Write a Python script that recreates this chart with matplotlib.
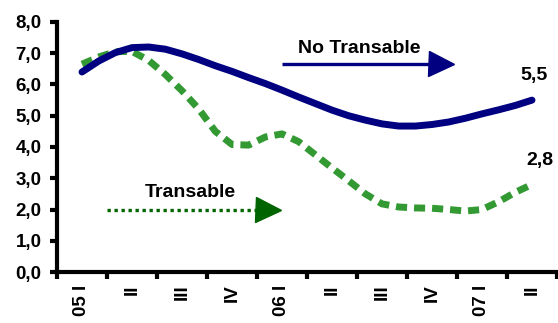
import numpy as np
import matplotlib
matplotlib.use("Agg")
import matplotlib.pyplot as plt

plt.rcParams["font.family"] = ["Liberation Sans", "DejaVu Sans"]
plt.rcParams["font.weight"] = "bold"

# quarter labels (one category per quarter) and monthly observations
quarters = ["05 I", "II", "III", "IV", "06 I", "II", "III", "IV", "07 I", "II"]
no_transable = [6.40, 6.75, 7.02, 7.18, 7.20, 7.13, 6.98, 6.80, 6.60, 6.42,
                6.22, 6.03, 5.82, 5.60, 5.39, 5.18, 5.00, 4.86, 4.74, 4.67,
                4.67, 4.72, 4.80, 4.92, 5.06, 5.19, 5.33, 5.50]
transable = [6.65, 6.88, 7.05, 7.06, 6.77, 6.32, 5.80, 5.22, 4.50, 4.08,
             4.06, 4.32, 4.42, 4.17, 3.75, 3.33, 2.92, 2.50, 2.18, 2.08,
             2.05, 2.04, 2.00, 1.95, 2.00, 2.25, 2.55, 2.80]

NAVY = "#000080"
GREEN = "#339933"
DKGREEN = "#006400"

months = np.arange(len(no_transable)) / 3.0

fig = plt.figure(figsize=(5.58, 3.23), dpi=100, facecolor="white")
ax = fig.add_axes([57 / 558, 51 / 323, 500 / 558, 250 / 323])

ax.plot(months, transable, color=GREEN, lw=5, dashes=(1.6, 1.0),
        solid_capstyle="butt", dash_capstyle="butt", zorder=3)
ax.plot(months, no_transable, color=NAVY, lw=5, solid_capstyle="round", zorder=4)

ax.text(months[-1] + 0.04, 6.3, f"{no_transable[-1]:.1f}".replace(".", ","),
        ha="center", va="center", fontsize=14, fontweight="bold")
ax.text(months[-1] + 0.15, 3.58, f"{transable[-1]:.1f}".replace(".", ","),
        ha="center", va="center", fontsize=14, fontweight="bold")

# legend-like arrows
ax.plot([4.0, 7.2], [6.66, 6.66], color=NAVY, lw=2.4, solid_capstyle="butt")
ax.plot([7.17], [6.66], marker=">", ms=18, color=NAVY, mec=NAVY)
ax.text(5.55, 7.14, "No Transable", ha="center", va="center", fontsize=14, fontweight="bold")

ax.plot([0.5, 3.5], [2.0, 2.0], color=DKGREEN, lw=2.4, dashes=(1, 1.1))
ax.plot([3.71], [2.0], marker=">", ms=18, color=DKGREEN, mec=DKGREEN)
ax.text(2.16, 2.54, "Transable", ha="center", va="center", fontsize=14, fontweight="bold")

ax.set_xlim(-0.5, len(quarters) - 0.5)
ax.set_ylim(0, 8)
ax.set_yticks(np.arange(0, 9, 1))
ax.set_yticklabels([f"{v:.1f}".replace(".", ",") for v in range(9)])
ax.set_xticks(np.arange(-0.5, len(quarters)))
ax.set_xticklabels([])
ax.set_xticks(np.arange(len(quarters)), minor=True)
ax.set_xticklabels(quarters, minor=True, rotation=90, va="top", ha="center")

for side in ("top", "right"):
    ax.spines[side].set_visible(False)
for side in ("left", "bottom"):
    ax.spines[side].set_linewidth(3)
ax.tick_params(which="major", direction="out", length=5, width=3, labelsize=13.5, pad=6)
ax.tick_params(which="minor", length=0, labelsize=13.5, pad=9)

fig.savefig("out.png", dpi=100)
plt.close(fig)
